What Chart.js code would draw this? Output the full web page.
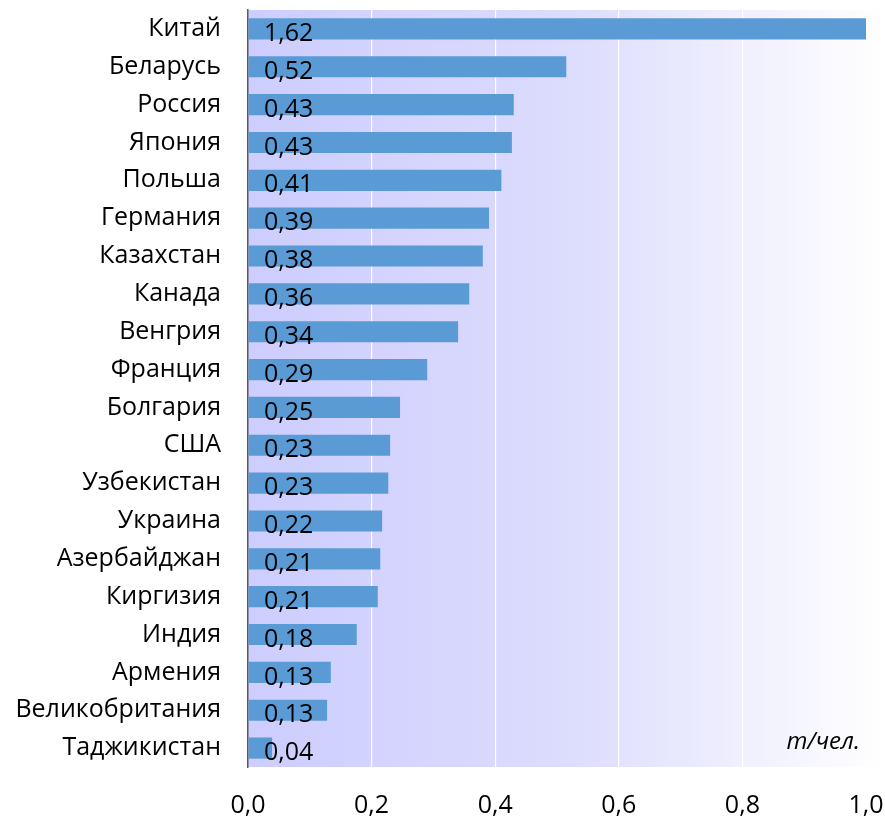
<!DOCTYPE html>
<html lang="ru">
<head>
<meta charset="utf-8">
<title>т/чел.</title>
<script src="https://cdn.jsdelivr.net/npm/chart.js@4.4.0/dist/chart.umd.min.js"></script>
<style>
  html, body { margin: 0; padding: 0; background: #fff; }
  #wrap { width: 885px; height: 819px; }
</style>
</head>
<body>
<div id="wrap"><canvas id="myChart" width="885" height="819"></canvas></div>
<script>
// data
var countries = ['Китай', 'Беларусь', 'Россия', 'Япония', 'Польша', 'Германия', 'Казахстан', 'Канада', 'Венгрия', 'Франция',
  'Болгария', 'США', 'Узбекистан', 'Украина', 'Азербайджан', 'Киргизия', 'Индия', 'Армения', 'Великобритания', 'Таджикистан'];
var values = [1.62, 0.515, 0.43, 0.427, 0.41, 0.39, 0.38, 0.358, 0.34, 0.29,
  0.246, 0.23, 0.227, 0.217, 0.214, 0.21, 0.176, 0.134, 0.128, 0.039];
var valueLabels = ['1,62', '0,52', '0,43', '0,43', '0,41', '0,39', '0,38', '0,36', '0,34', '0,29',
  '0,25', '0,23', '0,23', '0,22', '0,21', '0,21', '0,18', '0,13', '0,13', '0,04'];
var xTicks = [0, 0.2, 0.4, 0.6, 0.8, 1.0];
var unitText = 'т/чел.';

var FONT = "'Open Sans', 'DejaVu Sans', sans-serif";

// gradient background behind the plot
const bgPlugin = {
  id: 'bg',
  beforeDraw(chart) {
    const { ctx, chartArea } = chart;
    const g = ctx.createLinearGradient(chartArea.left, 0, chart.width, 0);
    g.addColorStop(0, '#cdcdff');
    g.addColorStop(0.5, '#dcdcfd');
    g.addColorStop(1, '#ffffff');
    ctx.save();
    ctx.fillStyle = g;
    ctx.fillRect(chartArea.left, chartArea.top, chart.width - chartArea.left, chartArea.bottom - chartArea.top);
    ctx.restore();
  }
};

// value labels + unit text
const labelPlugin = {
  id: 'vals',
  afterDatasetsDraw(chart) {
    const { ctx, chartArea } = chart;
    const meta = chart.getDatasetMeta(0);
    ctx.save();
    ctx.font = '25px ' + FONT;
    ctx.fillStyle = '#000';
    ctx.textAlign = 'left';
    ctx.textBaseline = 'middle';
    meta.data.forEach((bar, i) => {
      ctx.fillText(valueLabels[i], chartArea.left + 16, bar.y + 5);
    });
    ctx.font = 'italic 24px ' + FONT;
    ctx.textAlign = 'right';
    ctx.fillText(unitText, chartArea.right - 6, chartArea.bottom - 25);
    ctx.restore();
  }
};

function noPad(axis) {
  axis.paddingTop = 0; axis.paddingBottom = 0;
  axis.paddingLeft = 0; axis.paddingRight = 0;
}

const config = {
  type: 'bar',
  data: {
    labels: countries,
    datasets: [{
      data: values,
      backgroundColor: '#5b9bd5',
      borderWidth: 0,
      categoryPercentage: 1,
      barPercentage: 0.56
    }]
  },
  options: {
    indexAxis: 'y',
    responsive: false,
    animation: false,
    layout: { padding: { top: 10, right: 19, left: 0, bottom: 0 } },
    plugins: { legend: { display: false }, tooltip: { enabled: false } },
    scales: {
      x: {
        min: 0,
        max: 1,
        afterBuildTicks(axis) { axis.ticks = xTicks.map(v => ({ value: v })); },
        afterFit(axis) { axis.height = 52; noPad(axis); },
        border: { display: false },
        grid: {
          drawTicks: false,
          color: ctx => (ctx.tick && ctx.tick.value === 0) ? 'rgba(0,0,0,0)' : '#ffffff',
          lineWidth: 1.2
        },
        ticks: {
          padding: 24,
          color: '#000',
          font: { family: FONT, size: 25 },
          callback: v => v.toFixed(1).replace('.', ',')
        }
      },
      y: {
        afterFit(axis) { axis.width = 248; noPad(axis); },
        border: { display: true, color: '#595959', width: 1.5 },
        grid: { display: false, drawTicks: false },
        ticks: {
          padding: 27,
          color: '#000',
          font: { family: FONT, size: 25 }
        }
      }
    }
  },
  plugins: [bgPlugin, labelPlugin]
};

var myChart = new Chart(document.getElementById('myChart'), config);
</script>
</body>
</html>
